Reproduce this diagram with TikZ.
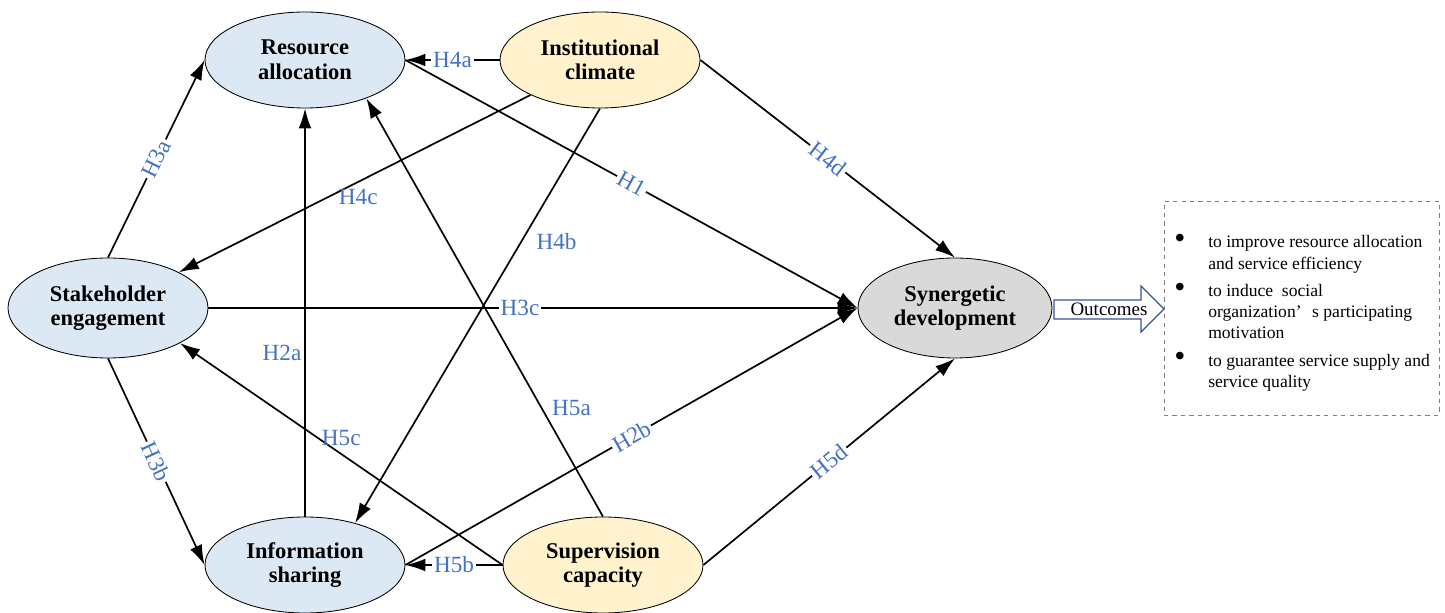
\documentclass[tikz,border=0pt]{standalone}
\usepackage{fontspec}
\setmainfont{Liberation Serif}
\usepackage{tikz}
\usetikzlibrary{arrows.meta,shapes.geometric}
\definecolor{rblue}{RGB}{221,232,245}
\definecolor{ryellow}{RGB}{255,242,204}
\definecolor{rgray}{RGB}{217,217,217}
\definecolor{hblue}{RGB}{68,114,196}
\definecolor{oblue}{RGB}{47,85,151}
\newcommand{\bigbul}{\raisebox{-0.5pt}{\scalebox{1.8}{\textbullet}}}

\begin{document}
\begin{tikzpicture}[
        var/.style={ellipse,draw,line width=0.6pt,inner sep=0pt,align=center,
          minimum width=5cm,minimum height=2.4cm,
          font=\fontsize{16}{17.5}\selectfont\bfseries},
        arr/.style={line width=1.2pt,-{Latex[length=5mm,width=3.2mm]}},
        onlab/.style={fill=white,text=hblue,inner sep=1.5pt,font=\fontsize{16.5}{16.5}\selectfont},
        offlab/.style={text=hblue,inner sep=1pt,font=\fontsize{16.5}{16.5}\selectfont}]
        \useasboundingbox (0,0) rectangle (36.125,15.325);

        \node[var,fill=rblue] (RA) at (7.625,13.825) {Resource\\allocation};
        \node[var,fill=ryellow] (IC) at (15.0,13.825) {Institutional\\climate};
        \node[var,fill=rblue,minimum height=2.5cm] (SE) at (2.7,7.625) {Stakeholder\\engagement};
        \node[var,fill=rgray,minimum width=4.85cm,minimum height=2.5cm] (SD) at (23.875,7.625) {Synergetic\\development};
        \node[var,fill=rblue] (IS) at (7.625,1.2) {Information\\sharing};
        \node[var,fill=ryellow] (SC) at (15.075,1.2) {Supervision\\capacity};

        \path[arr]
        (IC.west) edge node[onlab]{H4a} (RA.east)
        (SE.north) edge node[onlab,sloped]{H3a} (RA.west)
        (SE.south) edge node[onlab,sloped]{H3b} (IS.west)
        (SE.east) edge node[onlab,pos=0.48]{H3c} (SD.west)
        (IS.north) edge node[offlab,pos=0.4,left=1pt]{H2a} (RA.south)
        (IS.east) edge node[onlab,sloped]{H2b} (SD.west)
        (RA.east) edge node[onlab,sloped]{H1} (SD.west)
        (IC) edge node[offlab,pos=0.49,below=4pt]{H4c} (SE)
        (IC.south) edge node[offlab,pos=0.32,right=9pt]{H4b} (IS.40)
        (IC.east) edge node[onlab,sloped]{H4d} (SD.north)
        (SC.north) edge node[offlab,pos=0.26,right=6pt]{H5a} (RA.-32)
        (SC.west) edge node[onlab]{H5b} (IS.east)
        (SC.west) edge node[offlab,pos=0.5,above=4pt]{H5c} (SE.-26)
        (SC.east) edge node[onlab,sloped]{H5d} (SD.south);

        % outcomes
        \draw[oblue,line width=0.8pt,fill=white]
        (26.35,7.825) -- (28.525,7.825) -- (28.525,8.175) -- (29.1,7.6)
        -- (28.525,7.025) -- (28.525,7.35) -- (26.35,7.35) -- cycle;
        \node[font=\fontsize{13.5}{14}\selectfont] (out) at (27.725,7.6) {Outcomes};

        \node[draw=gray,dashed,line width=0.6pt,minimum width=6.875cm,minimum height=5.35cm] (box) at (32.5375,7.625) {};
        \node[anchor=base west,inner sep=0pt,font=\fontsize{12.5}{15}\selectfont] (list) at (29.35,9.125) {%
          \begin{tabular}[t]{@{}p{0.85cm}@{}p{6cm}@{}}
            \bigbul & to improve resource allocation\newline and service efficiency\\[4.5pt]
            \bigbul & to induce\ \ social\newline organization’\hspace{0.6em}s participating\newline motivation\\[4.5pt]
            \bigbul & to guarantee service supply and\newline service quality
          \end{tabular}};
      \end{tikzpicture}
\end{document}
